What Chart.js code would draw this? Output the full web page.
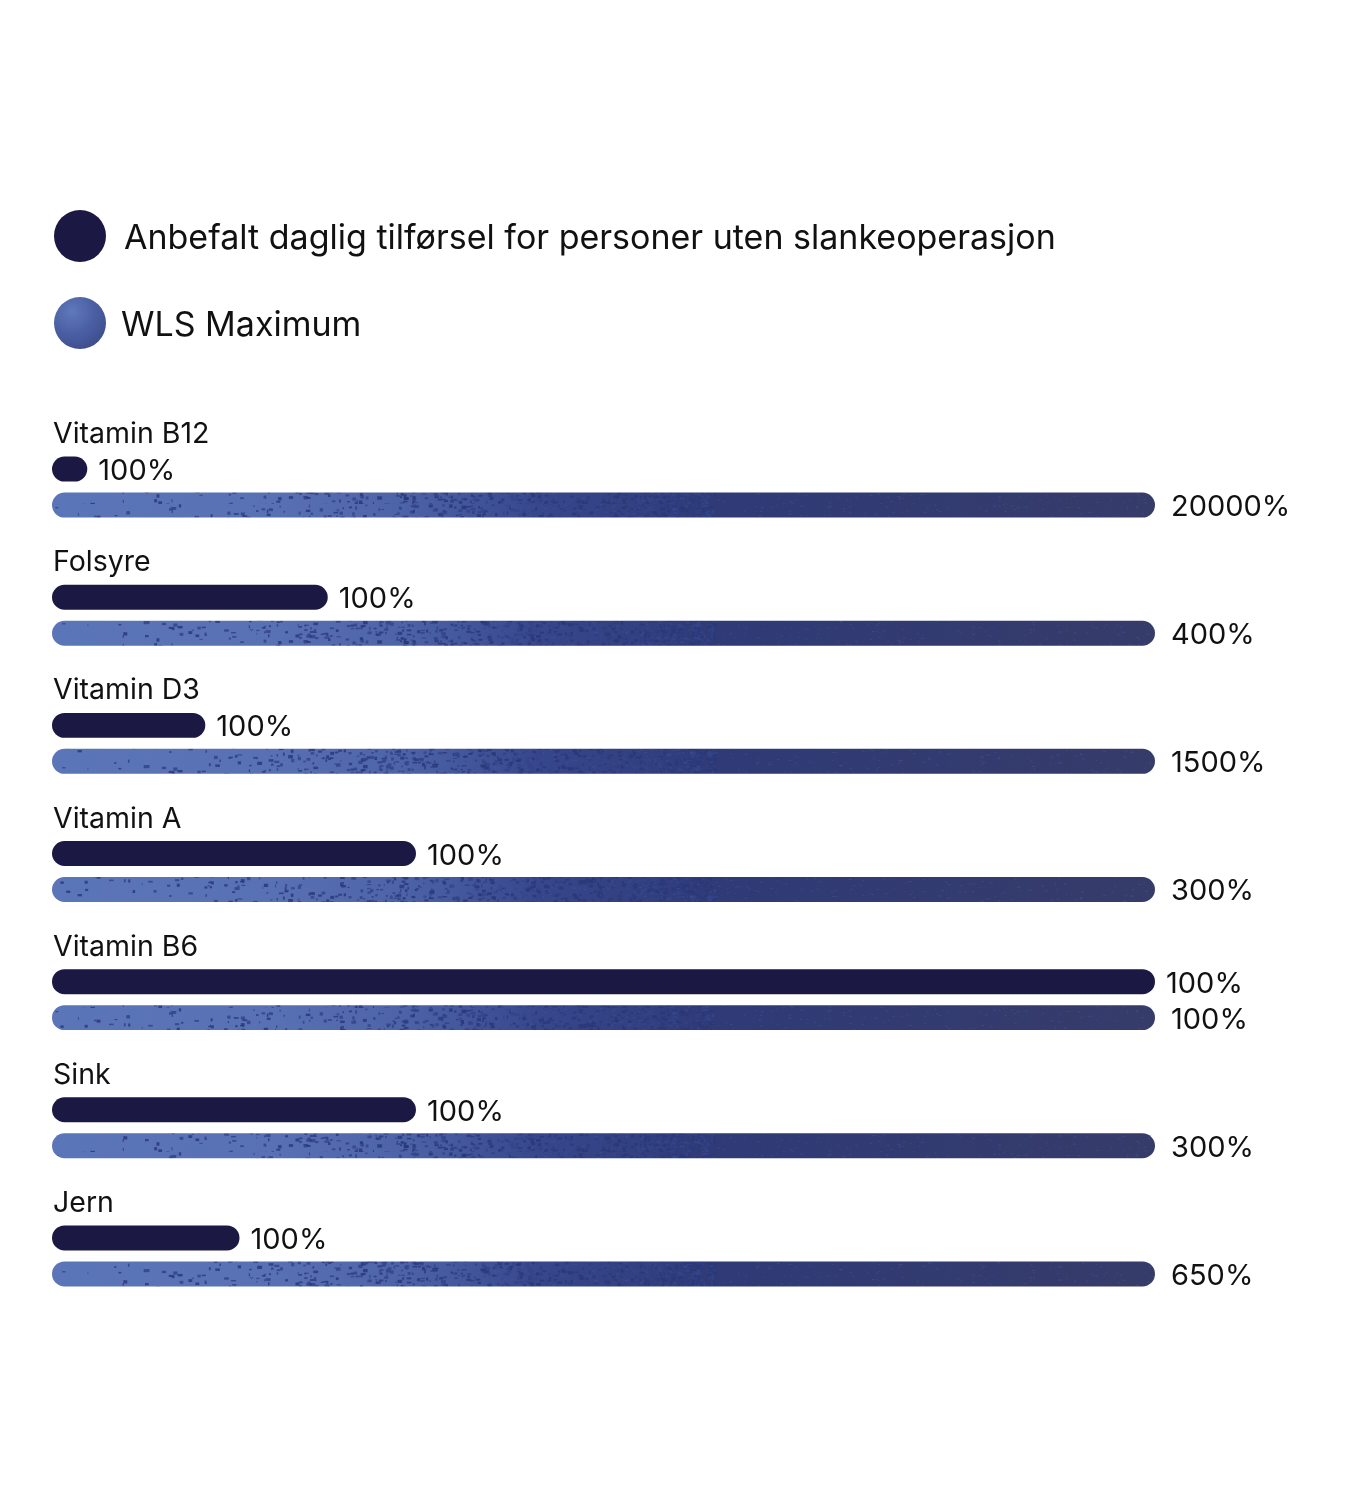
<!DOCTYPE html>
<html lang="no">
<head>
<meta charset="utf-8">
<title>Anbefalt daglig tilførsel vs WLS Maximum</title>
<script src="https://cdn.jsdelivr.net/npm/chart.js@4/dist/chart.umd.min.js"></script>
<style>
    html, body {
        margin: 0;
        padding: 0;
        background: #ffffff;
    }
    .page {
        position: relative;
        width: 1366px;
        height: 1500px;
        font-family: Inter, "Noto Sans", sans-serif;
        color: #111111;
    }
    .legend-item {
        position: absolute;
        left: 54px;
        display: flex;
        align-items: center;
        font-size: 34px;
        white-space: nowrap;
    }
    .legend-dot {
        width: 52px;
        height: 52px;
        border-radius: 50%;
        margin-right: 18px;
        flex: none;
    }
    .dot-dark {
        background: #1b1944;
    }
    .dot-wls {
        background: radial-gradient(circle at 35% 28%, #5f79bb 0%, #4a5fa3 45%, #36447e 100%);
    }
    #chart-wrap {
        position: absolute;
        left: 0;
        top: 0;
        width: 1366px;
        height: 1500px;
    }
</style>
</head>
<body>
<div class="page">
    <div id="chart-wrap"><canvas id="vitamin-chart"></canvas></div>
    <div class="legend-item" style="top:210px"><span class="legend-dot dot-dark"></span><span>Anbefalt daglig tilførsel for personer uten slankeoperasjon</span></div>
    <div class="legend-item" style="top:297px"><span class="legend-dot dot-wls" style="margin-right:15px"></span><span>WLS Maximum</span></div>
</div>
<script>
const categories = ['Vitamin B12', 'Folsyre', 'Vitamin D3', 'Vitamin A', 'Vitamin B6', 'Sink', 'Jern'];

// percentages printed next to the bars
const recommendedPct = [100, 100, 100, 100, 100, 100, 100];
const wlsPct = [20000, 400, 1500, 300, 100, 300, 650];

// bar lengths as drawn, share of the full track (0-100)
const recommendedBar = [3.2, 25, 13.9, 33, 100, 33, 17];
const wlsBar = [100, 100, 100, 100, 100, 100, 100];

const DARK = '#1b1944';
let wlsPattern = null;

function seededRandom(seed) {
    return function() {
        seed |= 0;
        seed = seed + 0x6D2B79F5 | 0;
        let t = Math.imul(seed ^ seed >>> 15, 1 | seed);
        t = t + Math.imul(t ^ t >>> 7, 61 | t) ^ t;
        return ((t ^ t >>> 14) >>> 0) / 4294967296;
    };
}

function buildWlsFill(chart) {
    const area = chart.chartArea;
    const off = document.createElement('canvas');
    off.width = chart.width;
    off.height = 72;
    const c = off.getContext('2d');
    const w = area.right - area.left;

    const grad = c.createLinearGradient(area.left, 0, area.right, 0);
    grad.addColorStop(0, '#5b75b9');
    grad.addColorStop(0.2, '#5871b4');
    grad.addColorStop(0.32, '#4d63a7');
    grad.addColorStop(0.44, '#37478c');
    grad.addColorStop(0.6, '#2f3a77');
    grad.addColorStop(1, '#363c69');
    c.fillStyle = grad;
    c.fillRect(0, 0, off.width, off.height);

    // speckled transition from light to dark blue
    const rand = seededRandom(11);
    for (let k = 0; k < 4200; k++) {
        const t = rand();
        const x = area.left + w * t * 0.6;
        const y = rand() * off.height;
        const density = Math.pow(t, 1.8);
        if (rand() > density + 0.04) continue;
        c.fillStyle = rand() < 0.5 ? 'rgba(42,56,120,0.85)' : 'rgba(52,68,138,0.85)';
        c.fillRect(x, y, 1 + rand() * 4, 1 + rand() * 2.5);
    }
    for (let k = 0; k < 700; k++) {
        const x = area.left + w * (0.3 + rand() * 0.7);
        const y = rand() * off.height;
        c.fillStyle = 'rgba(80,98,165,0.35)';
        c.fillRect(x, y, 1 + rand() * 2, 1);
    }
    return chart.ctx.createPattern(off, 'repeat');
}

const labelPlugin = {
    id: 'barLabels',
    afterDatasetsDraw(chart) {
        const ctx = chart.ctx;
        const recMeta = chart.getDatasetMeta(0);
        const wlsMeta = chart.getDatasetMeta(1);
        ctx.save();
        ctx.fillStyle = '#111111';
        ctx.textAlign = 'left';
        ctx.textBaseline = 'alphabetic';

        categories.forEach((name, i) => {
            const rec = recMeta.data[i];
            const wls = wlsMeta.data[i];

            ctx.font = '28.5px Inter, "Noto Sans", sans-serif';
            ctx.fillText(name, chart.chartArea.left + 1, rec.y - 26);

            ctx.font = '29px Inter, "Noto Sans", sans-serif';
            ctx.fillText(recommendedPct[i] + '%', rec.x + 11, rec.y + 11);
            ctx.fillText(wlsPct[i] + '%', wls.x + 16, wls.y + 11);
        });
        ctx.restore();
    }
};

function createChart() {
    const ctx = document.getElementById('vitamin-chart').getContext('2d');

    new Chart(ctx, {
        type: 'bar',
        data: {
            labels: categories,
            datasets: [{
                label: 'Anbefalt daglig tilførsel for personer uten slankeoperasjon',
                data: recommendedBar,
                backgroundColor: DARK,
                borderRadius: 13,
                borderSkipped: false
            }, {
                label: 'WLS Maximum',
                data: wlsBar,
                backgroundColor: (context) => {
                    const chart = context.chart;
                    if (!chart.chartArea) return '#4a5fa3';
                    if (!wlsPattern) wlsPattern = buildWlsFill(chart);
                    return wlsPattern;
                },
                borderRadius: 13,
                borderSkipped: false
            }]
        },
        options: {
            indexAxis: 'y',
            responsive: true,
            maintainAspectRatio: false,
            animation: false,
            categoryPercentage: 0.5616,
            barPercentage: 0.694,
            layout: {
                padding: { left: 52, right: 211, top: 423, bottom: 180 }
            },
            plugins: {
                legend: { display: false },
                tooltip: { enabled: false }
            },
            scales: {
                x: {
                    display: false,
                    min: 0,
                    max: 100
                },
                y: {
                    display: false
                }
            }
        },
        plugins: [labelPlugin]
    });
}

document.addEventListener('DOMContentLoaded', createChart);
</script>
</body>
</html>
